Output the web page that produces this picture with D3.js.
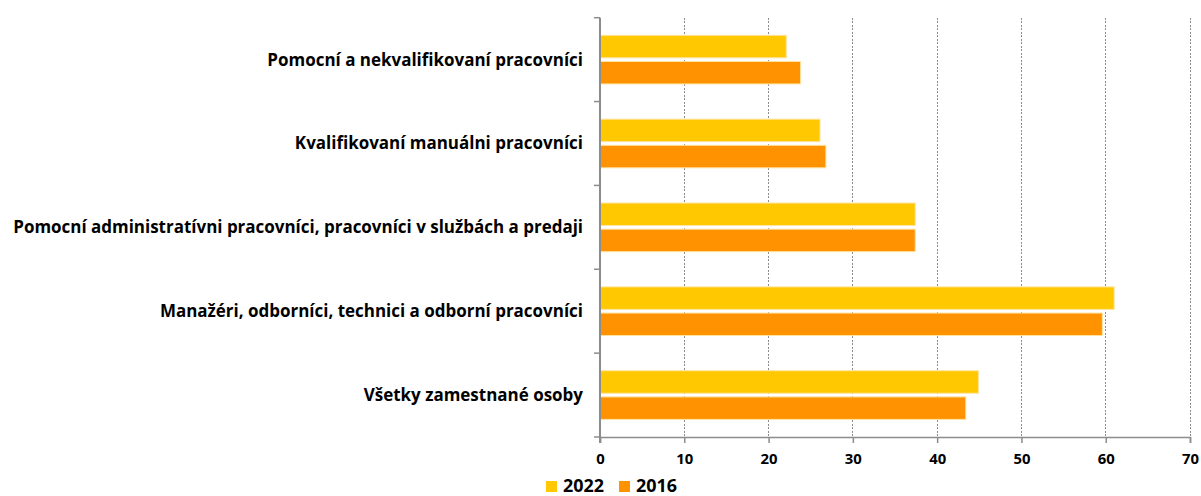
<!DOCTYPE html>
<html>
<head>
<meta charset="utf-8">
<script src="https://cdn.jsdelivr.net/npm/d3@7"></script>
<style>
  html, body { margin: 0; padding: 0; background: #fff; }
  svg { display: block; }
  text { font-family: "Open Sans", "Noto Sans", sans-serif; font-weight: bold; fill: #000; }
</style>
</head>
<body>
<svg id="chart" width="1201" height="496"></svg>
<script>
// Occupational groups (top to bottom)
const categories = [
  "Pomocní a nekvalifikovaní pracovníci",
  "Kvalifikovaní manuálni pracovníci",
  "Pomocní administratívni pracovníci, pracovníci v službách a predaji",
  "Manažéri, odborníci, technici a odborní pracovníci",
  "Všetky zamestnané osoby"
];
const seriesNames = ["2022", "2016"];
const values2022 = [22.1, 26.1, 37.4, 61.0, 44.9];
const values2016 = [23.8, 26.8, 37.4, 59.6, 43.4];
const xTicks = [0, 10, 20, 30, 40, 50, 60, 70];
const colors = ["#FFC800", "#FF9200"];

const svg = d3.select("#chart");
const margin = { left: 600, right: 11, top: 17.7, bottom: 59 };
const W = 1201, H = 496;
const plotW = W - margin.left - margin.right;
const plotH = H - margin.top - margin.bottom;

const x = d3.scaleLinear().domain([0, 70]).range([margin.left, margin.left + plotW]);
const y = d3.scaleBand().domain(categories).range([margin.top, margin.top + plotH]).paddingInner(0.42).paddingOuter(0.21);
const ySub = d3.scaleBand().domain(seriesNames).range([0, y.bandwidth()]).paddingInner(0.14);

// font size that gives a text node the wanted width
function fitSize(baseSize, widestText, wantedWidth) {
  const probe = svg.append("text").attr("font-size", baseSize).text(widestText);
  const w = probe.node().getComputedTextLength();
  probe.remove();
  return baseSize * wantedWidth / w;
}
const labelSize = fitSize(16, categories[2], 570);
const tickSize = fitSize(16, "10", 17);
const legendSize = fitSize(16, "2022", 41);

// dashed vertical gridlines
svg.append("g").selectAll("line").data(xTicks.filter(t => t > 0)).join("line")
  .attr("x1", d => x(d)).attr("x2", d => x(d))
  .attr("y1", margin.top).attr("y2", margin.top + plotH)
  .attr("stroke", "#8c8c8c").attr("stroke-width", 1)
  .attr("stroke-dasharray", "2,1.5")
  .attr("shape-rendering", "crispEdges");

// bars
const rows = categories.map((c, i) => ({ cat: c, vals: [values2022[i], values2016[i]] }));
const groups = svg.append("g").selectAll("g").data(rows).join("g")
  .attr("transform", d => `translate(0,${y(d.cat)})`);
groups.selectAll("rect").data(d => d.vals.map((v, j) => ({ v, s: seriesNames[j], c: colors[j] }))).join("rect")
  .attr("x", x(0))
  .attr("y", d => ySub(d.s))
  .attr("width", d => x(d.v) - x(0))
  .attr("height", ySub.bandwidth())
  .attr("fill", d => d.c)
  .attr("stroke", "#FFE3A0").attr("stroke-width", 1);

// bottom axis
const xAxis = svg.append("g")
  .attr("transform", `translate(0,${margin.top + plotH})`)
  .call(d3.axisBottom(x).tickValues(xTicks).tickSize(6).tickPadding(10).tickFormat(d3.format("d")));
xAxis.select(".domain").attr("stroke", "#8c8c8c").attr("stroke-width", 1.5);
xAxis.selectAll(".tick line").attr("stroke", "#8c8c8c").attr("stroke-width", 1.5);
xAxis.selectAll("text").attr("font-size", tickSize)
  .attr("font-family", "Open Sans, Noto Sans, sans-serif").attr("font-weight", "bold").attr("fill", "#000");

// left axis with category boundary ticks
const yAxisG = svg.append("g");
yAxisG.append("line")
  .attr("x1", x(0)).attr("x2", x(0))
  .attr("y1", margin.top).attr("y2", margin.top + plotH + 6)
  .attr("stroke", "#8c8c8c").attr("stroke-width", 2);
const bounds = d3.range(categories.length + 1).map(i => margin.top + i * plotH / categories.length);
yAxisG.selectAll("line.b").data(bounds).join("line").attr("class", "b")
  .attr("x1", x(0) - 6).attr("x2", x(0))
  .attr("y1", d => d).attr("y2", d => d)
  .attr("stroke", "#8c8c8c").attr("stroke-width", 1.5);

// category labels
svg.append("g").selectAll("text").data(categories).join("text")
  .attr("x", x(0) - 17)
  .attr("y", d => y(d) + y.bandwidth() / 2)
  .attr("dy", "0.35em")
  .attr("text-anchor", "end")
  .attr("font-size", labelSize)
  .text(d => d);

// legend
const legend = svg.append("g").attr("transform", "translate(546,481)");
const legendX = [0, 73];
seriesNames.forEach((s, i) => {
  const g = legend.append("g").attr("transform", `translate(${legendX[i]},0)`);
  g.append("rect").attr("width", 11).attr("height", 11).attr("fill", colors[i]);
  g.append("text").attr("x", 17).attr("y", 10.5).attr("font-size", legendSize).text(s);
});
</script>
</body>
</html>
